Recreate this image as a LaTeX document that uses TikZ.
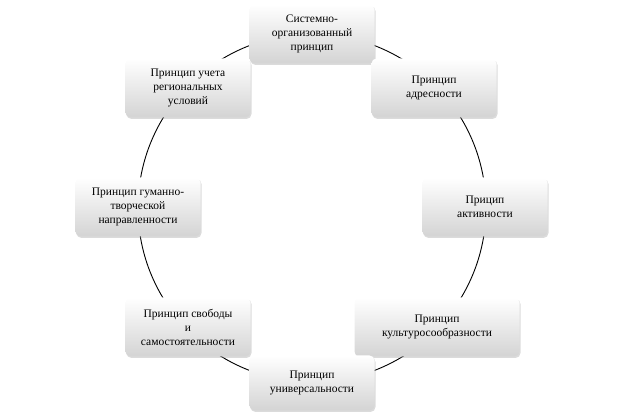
\documentclass[tikz,border=0pt]{standalone}
\usepackage{fontspec}
\setmainfont{Liberation Serif}
\usetikzlibrary{shadows}
\begin{document}
\begin{tikzpicture}[x=1pt,y=-1pt,
  box/.style={draw=none,rounded corners=5pt,top color=white,bottom color=black!17,
    minimum width=125pt,minimum height=59pt,align=center,inner sep=3pt,
    font=\fontsize{11.5pt}{14pt}\selectfont,
    drop shadow={shadow xshift=1pt,shadow yshift=-1.5pt,opacity=0.35,fill=black!40}}]
\useasboundingbox (0,0) rectangle (625,414);
\draw[line width=0.9pt] (312,208) circle (174);
\node[box] (a) at (312,34) {Системно-\\организованный\\принцип};
\node[box] (b) at (434,88) {Принцип\\адресности};
\node[box] (c) at (485,207) {Прицип\\активности};
\node[box,minimum width=165pt] (d) at (437,327) {Принцип\\культуросообразности};
\node[box,minimum height=55pt] (e) at (312,383) {Принцип\\универсальности};
\node[box] (f) at (188,327) {Принцип свободы\\и\\самостоятельности};
\node[box] (g) at (138,207) {Принцип гуманно-\\творческой\\направленности};
\node[box] (h) at (188,88) {Принцип учета\\региональных\\условий};
\end{tikzpicture}
\end{document}
